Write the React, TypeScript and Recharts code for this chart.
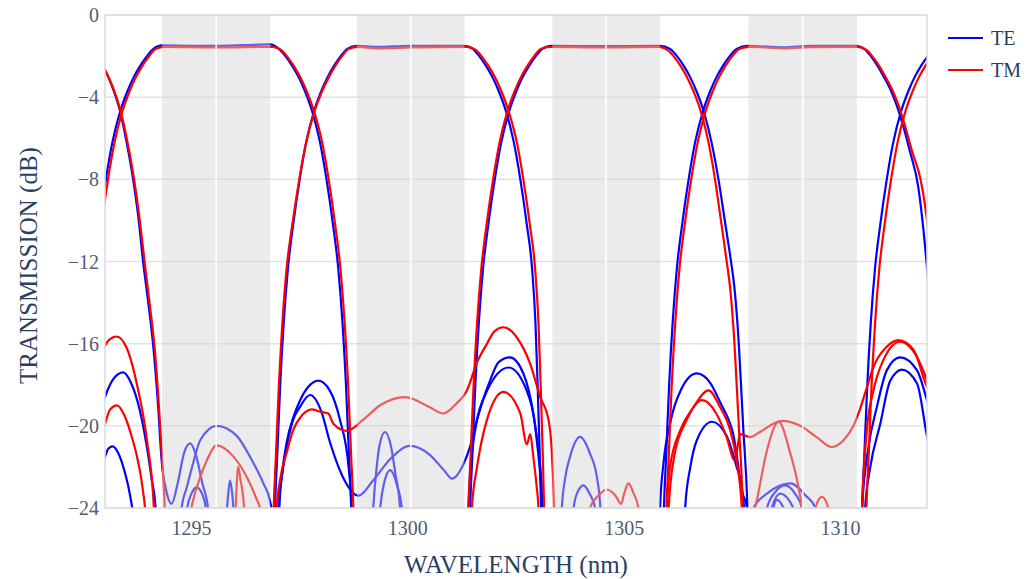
import React from 'react';
import {
  LineChart,
  Line,
  XAxis,
  YAxis,
  CartesianGrid,
  ReferenceArea,
  ReferenceLine,
  Label,
} from 'recharts';

type Pt = [number, number];

const FONT = "'Liberation Serif', 'Times New Roman', serif";
const TE_COLOR = '#0000ff';
const TM_COLOR = '#ff0000';

const xTicks = [1295, 1300, 1305, 1310];
const yTicks = [-24, -20, -16, -12, -8, -4, 0];

// channel windows (shaded) and their centre marks
const bandStart = [1294.32, 1298.82, 1303.34, 1307.87];
const bandEnd = [1296.82, 1301.31, 1305.83, 1310.38];
const bandMid = [1295.57, 1300.07, 1304.58, 1309.13];

// TE passbands
const teCh4Prev: Pt[] = [[1292.4,-1.5],[1292.6,-1.7],[1292.8,-2.1],[1293.0,-2.7],[1293.15,-3.4],[1293.35,-4.7],[1293.5,-6.2],[1293.65,-8.0],[1293.78,-10],[1293.88,-12],[1294.0,-14],[1294.11,-16],[1294.22,-18.8],[1294.31,-21.7],[1294.42,-23.2],[1294.54,-23.8],[1294.68,-22.8],[1294.83,-21.3],[1294.97,-20.85],[1295.1,-21.4],[1295.25,-22.8],[1295.38,-24],[1295.45,-27]];
const teCh1: Pt[] = [[1292.41,-28],[1292.45,-24],[1292.5,-21.5],[1292.57,-18],[1292.65,-15],[1292.75,-12.3],[1292.87,-10.2],[1293.02,-8.0],[1293.17,-6.2],[1293.35,-4.7],[1293.52,-3.7],[1293.67,-3.0],[1293.82,-2.45],[1293.97,-2.0],[1294.12,-1.65],[1294.32,-1.48],[1295.0,-1.5],[1295.57,-1.5],[1296.2,-1.47],[1296.82,-1.43],[1297.02,-1.65],[1297.17,-2.0],[1297.32,-2.45],[1297.47,-3.0],[1297.62,-3.7],[1297.79,-4.7],[1297.97,-6.2],[1298.12,-8.0],[1298.27,-10.2],[1298.39,-12.3],[1298.49,-15],[1298.57,-18],[1298.64,-21.5],[1298.69,-24],[1298.73,-28]];
const teCh2: Pt[] = [[1296.89,-28],[1296.93,-24],[1296.98,-21.5],[1297.05,-18],[1297.13,-15],[1297.23,-12.3],[1297.35,-10.2],[1297.5,-8.0],[1297.65,-6.2],[1297.83,-4.7],[1298.0,-3.7],[1298.15,-3.0],[1298.3,-2.45],[1298.45,-2.0],[1298.6,-1.65],[1298.82,-1.5],[1299.3,-1.55],[1300.05,-1.5],[1300.7,-1.5],[1301.3,-1.5],[1301.5,-1.65],[1301.65,-2.0],[1301.8,-2.45],[1301.95,-3.0],[1302.1,-3.7],[1302.27,-4.7],[1302.45,-6.2],[1302.6,-8.0],[1302.75,-10.2],[1302.87,-12.3],[1302.95,-15],[1303.0,-18],[1303.05,-21.5],[1303.08,-24],[1303.12,-28]];
const teCh3: Pt[] = [[1301.4,-28],[1301.44,-24],[1301.49,-21.5],[1301.56,-18],[1301.64,-15],[1301.74,-12.3],[1301.86,-10.2],[1302.01,-8.0],[1302.16,-6.2],[1302.34,-4.7],[1302.51,-3.7],[1302.66,-3.0],[1302.81,-2.45],[1302.96,-2.0],[1303.11,-1.65],[1303.31,-1.5],[1304.56,-1.52],[1305.83,-1.5],[1306.06,-1.65],[1306.22,-2.0],[1306.37,-2.45],[1306.52,-3.0],[1306.67,-3.7],[1306.84,-4.7],[1307.02,-6.2],[1307.18,-8.0],[1307.34,-10.2],[1307.47,-12.0],[1307.55,-13.3],[1307.65,-16],[1307.75,-20],[1307.85,-24],[1307.9,-28]];
const teCh4: Pt[] = [[1305.88,-28],[1305.92,-24],[1305.97,-21.5],[1306.04,-18],[1306.12,-15],[1306.22,-12.3],[1306.34,-10.2],[1306.49,-8.0],[1306.64,-6.2],[1306.82,-4.7],[1306.99,-3.7],[1307.14,-3.0],[1307.29,-2.45],[1307.44,-2.0],[1307.6,-1.65],[1307.85,-1.5],[1308.7,-1.58],[1309.3,-1.5],[1310.35,-1.5],[1310.55,-1.65],[1310.7,-2.0],[1310.85,-2.45],[1311.0,-3.0],[1311.15,-3.6],[1311.3,-4.4],[1311.45,-5.4],[1311.6,-6.6],[1311.8,-8.4],[1311.92,-10.5],[1312.02,-12.8],[1312.1,-15]];
const teCh1Next: Pt[] = [[1310.46,-28],[1310.5,-24],[1310.55,-21.5],[1310.62,-18],[1310.7,-15],[1310.8,-12.3],[1310.92,-10.2],[1311.07,-8.0],[1311.22,-6.2],[1311.4,-4.7],[1311.57,-3.7],[1311.72,-3.0],[1311.87,-2.45],[1312.02,-2.0],[1312.17,-1.65]];

// TE crosstalk lobes
const teLobe1: Pt[] = [[1292.9,-19.3],[1293,-18.6],[1293.2,-17.7],[1293.42,-17.4],[1293.6,-17.9],[1293.8,-19.2],[1293.95,-20.8],[1294.08,-22.6],[1294.17,-24],[1294.22,-27]];
const teLobe2: Pt[] = [[1292.9,-22.2],[1293,-21.5],[1293.08,-21.1],[1293.18,-21.0],[1293.3,-21.3],[1293.45,-22.2],[1293.58,-23.4],[1293.65,-24.5],[1293.7,-27]];
const teLobe3: Pt[] = [[1294.72,-26],[1294.77,-24],[1294.89,-23],[1295.04,-21.8],[1295.2,-20.7],[1295.58,-20.0],[1296.05,-20.5],[1296.35,-21.5],[1296.66,-22.8],[1296.82,-23.7],[1296.88,-24.5],[1296.92,-27]];
const teLobe4: Pt[] = [[1294.86,-25],[1294.9,-24],[1294.98,-23.4],[1295.12,-23.0],[1295.26,-23.4],[1295.33,-24],[1295.37,-25]];
const teLobe5: Pt[] = [[1295.8,-24.6],[1295.85,-23.3],[1295.89,-22.65],[1295.94,-23.3],[1295.99,-24.6]];
const teLobe6: Pt[] = [[1296.96,-27],[1297.0,-24],[1297.08,-22.6],[1297.2,-21.0],[1297.35,-19.7],[1297.5,-19.1],[1297.74,-18.5],[1298.0,-19.3],[1298.2,-20.8],[1298.5,-22.5],[1298.86,-23.4],[1299.2,-22.65],[1299.6,-21.6],[1300.05,-20.98],[1300.5,-21.4],[1300.85,-22.2],[1301.02,-22.57],[1301.3,-21.8],[1301.44,-21.0],[1301.6,-19.7],[1301.9,-17.8],[1302.1,-16.9],[1302.36,-16.67],[1302.67,-17.45],[1302.9,-19.4],[1303.06,-22],[1303.13,-24],[1303.18,-27]];
const teLobe7: Pt[] = [[1296.99,-27],[1297.03,-24],[1297.1,-22.2],[1297.2,-20.8],[1297.35,-19.6],[1297.5,-18.8],[1297.7,-18.1],[1297.93,-17.8],[1298.2,-18.3],[1298.43,-19.7],[1298.63,-22],[1298.7,-24],[1298.74,-27]];
const teLobe8: Pt[] = [[1299.15,-26],[1299.2,-24],[1299.28,-22],[1299.35,-20.9],[1299.47,-20.3],[1299.6,-20.9],[1299.71,-22.3],[1299.82,-24],[1299.86,-26]];
const teLobe9: Pt[] = [[1299.32,-25],[1299.36,-24],[1299.45,-22.8],[1299.59,-22.16],[1299.75,-22.9],[1299.86,-24],[1299.9,-25]];
const teLobe10: Pt[] = [[1301.36,-27],[1301.4,-24],[1301.52,-20.7],[1301.83,-18.3],[1302.33,-17.16],[1302.75,-18.3],[1302.98,-20.7],[1303.1,-24],[1303.14,-27]];
const teLobe11: Pt[] = [[1303.52,-26],[1303.56,-24],[1303.64,-22.5],[1303.75,-21.5],[1303.98,-20.54],[1304.21,-21.35],[1304.37,-22.5],[1304.45,-24],[1304.49,-26]];
const teLobe12: Pt[] = [[1303.79,-25],[1303.83,-24],[1303.93,-23.2],[1304.06,-22.9],[1304.2,-23.3],[1304.33,-24],[1304.37,-25]];
const teLobe13: Pt[] = [[1305.79,-27],[1305.83,-24],[1305.91,-21.8],[1306.06,-19.9],[1306.3,-18.3],[1306.68,-17.45],[1307.0,-17.94],[1307.23,-18.9],[1307.45,-19.9],[1307.52,-20.4],[1307.64,-22],[1307.7,-23],[1307.84,-24],[1307.88,-27]];
const teLobe14: Pt[] = [[1306.37,-27],[1306.41,-24],[1306.53,-22],[1306.68,-20.7],[1307.03,-19.8],[1307.37,-20.5],[1307.6,-22],[1307.72,-23],[1307.77,-24],[1307.81,-27]];
const teLobe15: Pt[] = [[1307.95,-25],[1307.99,-24],[1308.3,-23.3],[1308.84,-22.8],[1309.2,-23.4],[1309.42,-24],[1309.46,-25]];
const teLobe16: Pt[] = [[1308.26,-25],[1308.3,-24],[1308.5,-23.2],[1308.72,-22.9],[1308.95,-23.3],[1309.11,-24],[1309.15,-25]];
const teLobe17: Pt[] = [[1308.37,-25],[1308.41,-24],[1308.61,-23.3],[1308.91,-24],[1308.95,-25]];
const teLobe18: Pt[] = [[1308.41,-25],[1308.45,-24],[1308.53,-23.6],[1308.68,-24],[1308.72,-25]];
const teLobe19: Pt[] = [[1310.46,-27],[1310.5,-24],[1310.65,-21.0],[1310.84,-19.1],[1311.07,-17.3],[1311.38,-16.67],[1311.77,-17.3],[1312.0,-18.75],[1312.05,-19.1]];
const teLobe20: Pt[] = [[1310.53,-27],[1310.57,-24],[1310.69,-22],[1310.92,-19.9],[1311.15,-17.8],[1311.42,-17.26],[1311.77,-17.94],[1312.0,-20.5],[1312.05,-21]];

// TM passbands
const tmCh4Prev: Pt[] = [[1292.45,-1.55],[1292.65,-1.75],[1292.85,-2.15],[1293.02,-2.75],[1293.18,-3.5],[1293.37,-4.75],[1293.53,-6.3],[1293.68,-8.1],[1293.81,-10.1],[1293.92,-12.1],[1294.04,-14.2],[1294.16,-16.5],[1294.26,-19.5],[1294.33,-22],[1294.38,-24],[1294.42,-28]];
const tmCh1: Pt[] = [[1292.46,-28],[1292.5,-24],[1292.55,-21.5],[1292.62,-18],[1292.7,-15],[1292.8,-12.3],[1292.92,-10.2],[1293.07,-8.0],[1293.22,-6.2],[1293.4,-4.7],[1293.57,-3.7],[1293.72,-3.0],[1293.87,-2.45],[1294.02,-2.0],[1294.17,-1.65],[1294.37,-1.55],[1295.62,-1.58],[1296.87,-1.55],[1297.07,-1.7],[1297.22,-2.05],[1297.37,-2.5],[1297.52,-3.05],[1297.67,-3.75],[1297.84,-4.75],[1298.02,-6.2],[1298.17,-8.0],[1298.32,-10.2],[1298.44,-12.3],[1298.54,-15],[1298.62,-18],[1298.69,-21.5],[1298.74,-24],[1298.78,-28]];
const tmCh2: Pt[] = [[1296.86,-28],[1296.9,-24],[1296.95,-21.5],[1297.02,-18],[1297.1,-15],[1297.2,-12.3],[1297.33,-10.2],[1297.49,-8.0],[1297.65,-6.2],[1297.84,-4.7],[1298.02,-3.7],[1298.18,-3.0],[1298.33,-2.45],[1298.48,-2.0],[1298.63,-1.65],[1298.85,-1.55],[1299.3,-1.62],[1300.05,-1.58],[1301.37,-1.55],[1301.57,-1.7],[1301.72,-2.05],[1301.87,-2.5],[1302.02,-3.05],[1302.17,-3.75],[1302.34,-4.75],[1302.52,-6.2],[1302.67,-8.0],[1302.82,-10.2],[1302.94,-12.3],[1303.02,-15],[1303.07,-18],[1303.12,-21.5],[1303.15,-24],[1303.19,-28]];
const tmCh3: Pt[] = [[1301.36,-28],[1301.4,-24],[1301.45,-21.5],[1301.52,-18],[1301.6,-15],[1301.7,-12.3],[1301.82,-10.2],[1301.97,-8.0],[1302.12,-6.2],[1302.3,-4.7],[1302.47,-3.7],[1302.62,-3.0],[1302.77,-2.45],[1302.92,-2.0],[1303.07,-1.65],[1303.27,-1.55],[1304.52,-1.58],[1305.8,-1.55],[1306.0,-1.7],[1306.16,-2.05],[1306.31,-2.5],[1306.46,-3.05],[1306.61,-3.75],[1306.78,-4.75],[1306.95,-6.2],[1307.1,-8.0],[1307.25,-10.2],[1307.37,-12.0],[1307.45,-13.3],[1307.55,-16],[1307.65,-20],[1307.74,-24],[1307.78,-28]];
const tmCh4: Pt[] = [[1305.94,-28],[1305.98,-24],[1306.03,-21.5],[1306.1,-18],[1306.18,-15],[1306.28,-12.3],[1306.4,-10.2],[1306.55,-8.0],[1306.7,-6.2],[1306.88,-4.7],[1307.05,-3.7],[1307.2,-3.0],[1307.35,-2.45],[1307.5,-2.0],[1307.66,-1.65],[1307.9,-1.55],[1308.75,-1.62],[1309.3,-1.56],[1310.4,-1.55],[1310.6,-1.7],[1310.75,-2.05],[1310.9,-2.5],[1311.05,-3.05],[1311.2,-3.65],[1311.35,-4.45],[1311.5,-5.45],[1311.65,-6.6],[1311.85,-8.0],[1311.95,-9.2],[1312.05,-10.9],[1312.12,-12.5]];
const tmCh1Next: Pt[] = [[1310.56,-28],[1310.6,-24],[1310.65,-21.5],[1310.72,-18],[1310.8,-15],[1310.9,-12.3],[1311.02,-10.2],[1311.17,-8.0],[1311.32,-6.2],[1311.5,-4.7],[1311.67,-3.7],[1311.82,-3.0],[1311.97,-2.45],[1312.12,-2.0],[1312.27,-1.65]];

// TM crosstalk lobes
const tmLobe1: Pt[] = [[1292.9,-16.6],[1293,-16.1],[1293.1,-15.8],[1293.27,-15.65],[1293.5,-16.2],[1293.74,-18],[1293.97,-20.7],[1294.13,-24],[1294.18,-27]];
const tmLobe2: Pt[] = [[1292.9,-20.6],[1293,-19.9],[1293.12,-19.2],[1293.28,-19.0],[1293.45,-19.5],[1293.6,-20.4],[1293.75,-21.6],[1293.88,-23.2],[1293.94,-24.5],[1293.98,-27]];
const tmLobe3: Pt[] = [[1294.95,-26],[1295.0,-24],[1295.04,-23.6],[1295.2,-22.5],[1295.35,-21.7],[1295.58,-20.95],[1295.97,-21.5],[1296.28,-22.5],[1296.51,-23.6],[1296.58,-24],[1296.62,-26]];
const tmLobe4: Pt[] = [[1296.0,-25],[1296.03,-23.5],[1296.08,-22.0],[1296.13,-22.6],[1296.2,-23.6],[1296.25,-25]];
const tmLobe5: Pt[] = [[1296.93,-26],[1296.97,-24],[1297.05,-22.6],[1297.2,-21.3],[1297.35,-20.2],[1297.55,-19.5],[1297.78,-19.2],[1297.95,-19.3],[1298.16,-19.4],[1298.28,-19.9],[1298.59,-20.25],[1298.97,-19.7],[1299.36,-19.0],[1299.94,-18.6],[1300.51,-19.1],[1300.82,-19.4],[1301.13,-18.9],[1301.36,-18.3],[1301.6,-16.9],[1301.83,-16.0],[1302.0,-15.4],[1302.21,-15.2],[1302.52,-15.7],[1302.83,-17.0],[1303.06,-18.6],[1303.25,-19.7],[1303.32,-21],[1303.38,-24],[1303.42,-27]];
const tmLobe6: Pt[] = [[1301.42,-27],[1301.48,-24],[1301.6,-22],[1301.83,-19.7],[1302.21,-18.35],[1302.6,-19.4],[1302.75,-20.9],[1302.83,-20.4],[1302.9,-21.5],[1302.98,-23],[1303.02,-24],[1303.06,-27]];
const tmLobe7: Pt[] = [[1304.15,-26],[1304.21,-24],[1304.4,-23.4],[1304.6,-23.1],[1304.8,-23.4],[1304.93,-23.8],[1305.0,-23.3],[1305.1,-22.8],[1305.22,-23.3],[1305.33,-24],[1305.38,-26]];
const tmLobe8: Pt[] = [[1305.95,-27],[1305.99,-24],[1306.06,-22],[1306.3,-20.2],[1306.6,-19.1],[1306.95,-18.27],[1307.22,-19.1],[1307.45,-20.2],[1307.6,-21.7],[1307.72,-24],[1307.76,-27]];
const tmLobe9: Pt[] = [[1305.99,-27],[1306.03,-24],[1306.14,-21.7],[1306.45,-19.7],[1306.8,-18.75],[1307.13,-19.4],[1307.36,-20.5],[1307.56,-21.7],[1307.68,-20.4],[1307.91,-20.55],[1308.14,-20.3],[1308.45,-19.9],[1308.65,-19.76],[1309.07,-20.0],[1309.45,-20.55],[1309.8,-21.03],[1310.07,-20.7],[1310.3,-20.0],[1310.45,-19.2],[1310.6,-18.2],[1310.77,-17.1],[1311.07,-16.15],[1311.34,-15.83],[1311.69,-16.3],[1311.96,-17.9],[1312.1,-18.6]];
const tmLobe10: Pt[] = [[1308.0,-26],[1308.03,-24],[1308.07,-23.6],[1308.3,-21.2],[1308.57,-19.8],[1308.84,-21.35],[1309.03,-23],[1309.1,-24],[1309.14,-26]];
const tmLobe11: Pt[] = [[1309.38,-25],[1309.42,-24],[1309.57,-23.46],[1309.72,-24],[1309.76,-25]];
const tmLobe12: Pt[] = [[1310.46,-27],[1310.5,-24],[1310.61,-20.2],[1310.76,-18.3],[1310.99,-16.8],[1311.38,-15.9],[1311.77,-16.65],[1312.0,-17.8],[1312.05,-18.1]];

const teCurves = [
  teCh4Prev, teCh1, teCh2, teCh3, teCh4, teCh1Next,
  teLobe1, teLobe2, teLobe3, teLobe4, teLobe5, teLobe6, teLobe7, teLobe8, teLobe9, teLobe10,
  teLobe11, teLobe12, teLobe13, teLobe14, teLobe15, teLobe16, teLobe17, teLobe18, teLobe19, teLobe20,
];
const tmCurves = [
  tmCh4Prev, tmCh1, tmCh2, tmCh3, tmCh4, tmCh1Next,
  tmLobe1, tmLobe2, tmLobe3, tmLobe4, tmLobe5, tmLobe6, tmLobe7, tmLobe8, tmLobe9, tmLobe10,
  tmLobe11, tmLobe12,
];

const toRows = (pts: Pt[]) => pts.map(([x, y]) => ({ x, y }));

const legendItems = [
  { name: 'TE', color: TE_COLOR },
  { name: 'TM', color: TM_COLOR },
];

const minus = (v: number) => String(v).replace('-', '\u2212');

const App: React.FC = () => {
  return (
    <div style={{ position: 'absolute', left: 0, top: 0, width: 1034, height: 579, background: '#fff' }}>
      <LineChart
        width={1034}
        height={579}
        margin={{ top: 15, right: 107, bottom: 41, left: 0 }}
      >
        <CartesianGrid vertical={false} stroke="#e2e2e2" strokeWidth={1.5} />
        <XAxis
          dataKey="x"
          type="number"
          domain={[1293, 1312]}
          allowDataOverflow
          ticks={xTicks}
          height={30}
          axisLine={false}
          tickLine={false}
          tickSize={6}
          tickMargin={7}
          tick={{ fontSize: 20, fill: '#4f5d75', fontFamily: FONT }}
        >
          <Label
            content={(props: any) => {
              const vb = props.viewBox || { x: 105, y: 508, width: 822, height: 30 };
              return (
                <text
                  x={vb.x + vb.width / 2}
                  y={573}
                  textAnchor="middle"
                  fontSize={25}
                  fontFamily={FONT}
                  fill="#2a3f5f"
                >
                  WAVELENGTH (nm)
                </text>
              );
            }}
          />
        </XAxis>
        <YAxis
          type="number"
          domain={[-24, 0]}
          allowDataOverflow
          ticks={yTicks}
          width={105}
          axisLine={false}
          tickLine={false}
          tickSize={3}
          tickMargin={3}
          tickFormatter={minus}
          tick={{ fontSize: 20, fill: '#4f5d75', fontFamily: FONT }}
        >
          <Label
            content={(props: any) => {
              const vb = props.viewBox || { x: 0, y: 15, width: 105, height: 493 };
              const cy = vb.y + vb.height / 2 + 4;
              return (
                <text
                  x={37}
                  y={cy}
                  transform={`rotate(-90, 37, ${cy})`}
                  textAnchor="middle"
                  fontSize={25}
                  fontFamily={FONT}
                  fill="#2a3f5f"
                >
                  TRANSMISSION (dB)
                </text>
              );
            }}
          />
        </YAxis>

        {teCurves.map((c, i) => (
          <Line
            key={`te-${i}`}
            data={toRows(c)}
            dataKey="y"
            type="monotone"
            stroke={TE_COLOR}
            strokeWidth={2.2}
            dot={false}
            activeDot={false}
            isAnimationActive={false}
          />
        ))}
        {tmCurves.map((c, i) => (
          <Line
            key={`tm-${i}`}
            data={toRows(c)}
            dataKey="y"
            type="monotone"
            stroke={TM_COLOR}
            strokeWidth={2.2}
            dot={false}
            activeDot={false}
            isAnimationActive={false}
          />
        ))}

        {bandStart.map((s, i) => (
          <ReferenceArea
            key={`band-${i}`}
            x1={s}
            x2={bandEnd[i]}
            y1={-24}
            y2={0}
            fill="#d3d3d3"
            fillOpacity={0.45}
            stroke="none"
            zIndex={450}
          />
        ))}
        {bandMid.map((m, i) => (
          <ReferenceLine key={`mid-${i}`} x={m} stroke="#ffffff" strokeWidth={1.5} zIndex={460} />
        ))}
        <ReferenceArea
          x1={1293}
          x2={1312}
          y1={-24}
          y2={0}
          fill="none"
          stroke="#dcdcdc"
          strokeWidth={1.5}
          zIndex={470}
        />
      </LineChart>

      {legendItems.map((item, i) => (
        <div
          key={item.name}
          style={{
            position: 'absolute',
            left: 948,
            top: 26 + i * 32,
            height: 24,
            display: 'flex',
            alignItems: 'center',
            fontFamily: FONT,
            fontSize: 20,
            color: '#2a3f5f',
          }}
        >
          <div style={{ width: 35, height: 2.5, background: item.color, marginRight: 8 }} />
          <span>{item.name}</span>
        </div>
      ))}
    </div>
  );
};

export default App;
